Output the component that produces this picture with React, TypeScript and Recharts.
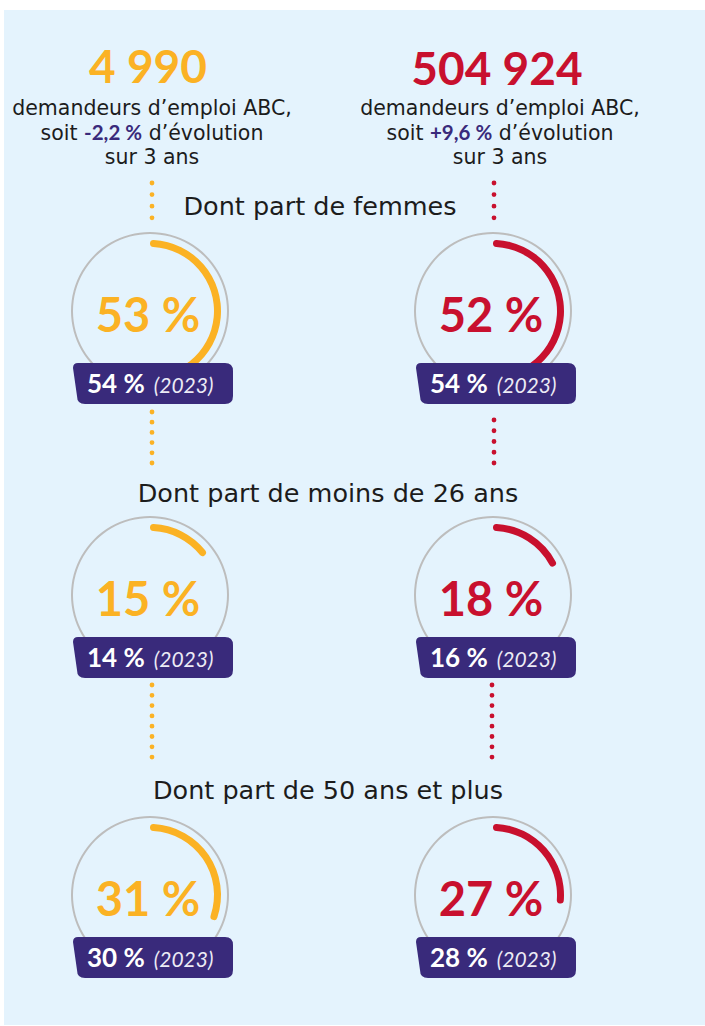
import React from "react";
import { PieChart, Pie, Cell } from "recharts";

const sections = [
  "Dont part de femmes",
  "Dont part de moins de 26 ans",
  "Dont part de 50 ans et plus",
];
const zoneShares = [53, 15, 31];
const zoneShares2023 = [54, 14, 30];
const franceShares = [52, 18, 27];
const franceShares2023 = [54, 16, 28];
const totals = ["4 990", "504 924"];
const evolutions = ["-2,2 %", "+9,6 %"];
const refYear = "2023";

const YELLOW = "#fbb224";
const RED = "#c8102e";
const PURPLE = "#392a7b";
const RING = "#bdbdbd";
const BG = "#e4f3fd";
const INK = "#1c1c1c";

const colX = [150, 493];
const rowY = [311, 595, 895];
const badgeTop = [363, 637, 937];
const badgeLeft = [73, 416];
const sectionLabelPos = [
  { x: 320, y: 215 },
  { x: 328, y: 502 },
  { x: 328, y: 799 },
];
// segments pointillés [x, y1, y2, espacement]
const dotted = [
  [152, 183, 218, 11.6, 0],
  [494, 183, 218, 11.6, 1],
  [152, 412, 463, 10.2, 0],
  [494, 420, 463, 10.75, 1],
  [152, 685, 757, 10.3, 0],
  [492, 685, 757, 10.3, 1],
];

const SANS = "'DejaVu Sans', sans-serif";
const BOLD = "Lato, 'Open Sans', sans-serif";

function badgePath(x: number, y: number) {
  const w = 160;
  const h = 41;
  return `M${x + 5} ${y} L${x + w - 8} ${y} Q${x + w} ${y} ${x + w} ${y + 8} L${x + w} ${
    y + h - 8
  } Q${x + w} ${y + h} ${x + w - 8} ${y + h} L${x + 12} ${y + h} Q${x + 4} ${y + h} ${x + 4} ${
    y + h - 8
  } L${x} ${y + 5} Q${x} ${y} ${x + 5} ${y} Z`;
}

export default function App() {
  const colors = [YELLOW, RED];
  const shares = [zoneShares, franceShares];
  const shares2023 = [zoneShares2023, franceShares2023];

  return (
    <div
      style={{
        position: "absolute",
        left: 0,
        top: 0,
        width: 705,
        height: 1026,
        background: "#fff",
        overflow: "hidden",
      }}
    >
      <div
        style={{
          position: "absolute",
          left: 4,
          top: 10,
          width: 701,
          height: 1015,
          background: BG,
        }}
      />
      <div style={{ position: "absolute", left: 0, top: 0 }}>
        <PieChart width={705} height={1026} margin={{ top: 0, right: 0, bottom: 0, left: 0 }}>
          {rowY.map((cy, r) =>
            colX.map((cx, c) => {
              const v = shares[c][r];
              const data = [
                { name: "part", value: v },
                { name: "reste", value: 100 - v },
              ];
              return [
                <Pie
                  key={`ring-${r}-${c}`}
                  data={[{ name: "cercle", value: 100 }]}
                  dataKey="value"
                  cx={cx}
                  cy={cy}
                  innerRadius={77}
                  outerRadius={79}
                  startAngle={90}
                  endAngle={-270}
                  fill={RING}
                  stroke="none"
                  isAnimationActive={false}
                />,
                <Pie
                  key={`arc-${r}-${c}`}
                  data={data}
                  dataKey="value"
                  cx={cx}
                  cy={cy}
                  innerRadius={64}
                  outerRadius={71}
                  startAngle={90}
                  endAngle={-270}
                  cornerRadius={4}
                  stroke="none"
                  isAnimationActive={false}
                >
                  <Cell fill={colors[c]} />
                  <Cell fill="transparent" />
                </Pie>,
              ];
            })
          )}
        </PieChart>
      </div>

      <svg
        width={705}
        height={1026}
        style={{ position: "absolute", left: 0, top: 0, pointerEvents: "none" }}
      >
        {dotted.map(([x, y1, y2, s, c], i) => (
          <line
            key={i}
            x1={x}
            x2={x}
            y1={y1}
            y2={y2 + 0.5}
            stroke={colors[c]}
            strokeWidth={4.8}
            strokeLinecap="round"
            strokeDasharray={`0 ${s}`}
          />
        ))}

        {/* en-têtes */}
        {totals.map((t, c) => {
          const cx = c === 0 ? 152 : 500;
          return (
            <g key={t}>
              <text
                x={c === 0 ? 148 : 497}
                y={c === 0 ? 83 : 85}
                textAnchor="middle"
                fontFamily={BOLD}
                fontWeight={700}
                fontSize={46}
                fill={colors[c]}
              >
                {t}
              </text>
              <text x={cx} y={115} textAnchor="middle" fontFamily={SANS} fontSize={20.5} fill={INK}>
                demandeurs d’emploi ABC,
              </text>
              <text x={cx} y={140} textAnchor="middle" fontFamily={SANS} fontSize={20.5} fill={INK}>
                soit{" "}
                <tspan fontFamily={BOLD} fontWeight={700} fill={PURPLE}>
                  {evolutions[c]}
                </tspan>{" "}
                d’évolution
              </text>
              <text x={cx} y={164} textAnchor="middle" fontFamily={SANS} fontSize={20.5} fill={INK}>
                sur 3 ans
              </text>
            </g>
          );
        })}

        {sections.map((s, r) => (
          <text
            key={s}
            x={sectionLabelPos[r].x}
            y={sectionLabelPos[r].y}
            textAnchor="middle"
            fontFamily={SANS}
            fontSize={25.5}
            fill={INK}
          >
            {s}
          </text>
        ))}

        {rowY.map((cy, r) =>
          colX.map((cx, c) => (
            <g key={`lbl-${r}-${c}`}>
              <text
                x={cx - 2}
                y={cy + 21}
                textAnchor="middle"
                fontFamily={BOLD}
                fontWeight={700}
                fontSize={47}
                fill={colors[c]}
              >
                {shares[c][r]} %
              </text>
              <path d={badgePath(badgeLeft[c], badgeTop[r])} fill={PURPLE} />
              <text x={badgeLeft[c] + 14} y={badgeTop[r] + 30} fill="#fff" fontFamily={BOLD}>
                <tspan fontWeight={700} fontSize={26}>
                  {shares2023[c][r]} %
                </tspan>
                <tspan fontStyle="italic" fontSize={21} dx={9} fill="#ecebf5">
                  ({refYear})
                </tspan>
              </text>
            </g>
          ))
        )}
      </svg>
    </div>
  );
}
